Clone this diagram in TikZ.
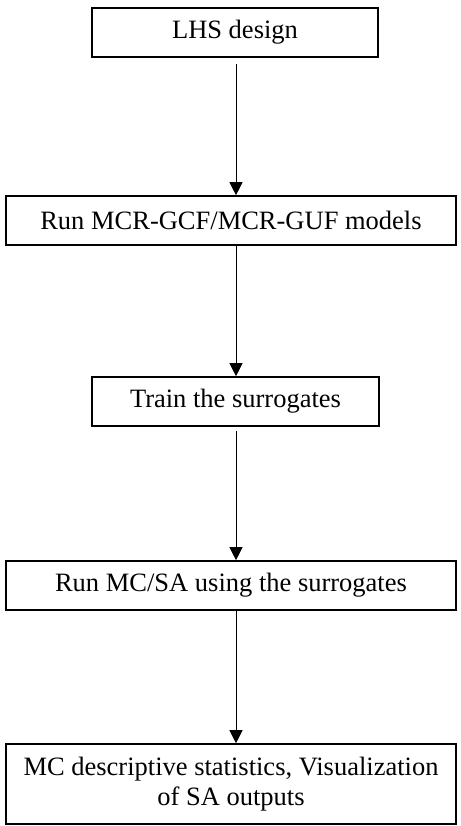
\documentclass[tikz,border=0pt]{standalone}
\usepackage{fontspec}
\setmainfont{Liberation Serif}
\usetikzlibrary{arrows.meta}
\begin{document}
\begin{tikzpicture}[x=1pt,y=-1pt,
  stepbox/.style={draw=black,line width=1.6pt,rectangle,inner sep=0pt,align=center,
    font=\fontsize{26.5}{30}\selectfont},
  flow/.style={line width=0.9pt,-{Triangle[length=13pt,width=13pt]}}]
\useasboundingbox (0,0) rectangle (460,826);
\node[stepbox,minimum width=286pt,minimum height=49pt] (b1) at (235,32.5) {LHS design};
\node[stepbox,minimum width=450pt,minimum height=49pt] (b2) at (231,220.5) {Run MCR-GCF/MCR-GUF models};
\node[stepbox,minimum width=287pt,minimum height=49pt] (b3) at (235.5,401.5) {Train the surrogates};
\node[stepbox,minimum width=450pt,minimum height=49pt] (b4) at (231,585.5) {Run MC/SA using the surrogates};
\node[stepbox,minimum width=450pt,minimum height=80pt] (b5) at (231,784) {MC descriptive statistics, Visualization\\of SA outputs};
\coordinate (ax) at (236,0);
\draw[flow,shorten <=6pt] (b1.south -| ax) -- (b2.north -| ax);
\draw[flow] (b2.south -| ax) -- (b3.north -| ax);
\draw[flow,shorten <=4pt] (b3.south -| ax) -- (b4.north -| ax);
\draw[flow] (b4.south -| ax) -- (b5.north -| ax);
\end{tikzpicture}
\end{document}
